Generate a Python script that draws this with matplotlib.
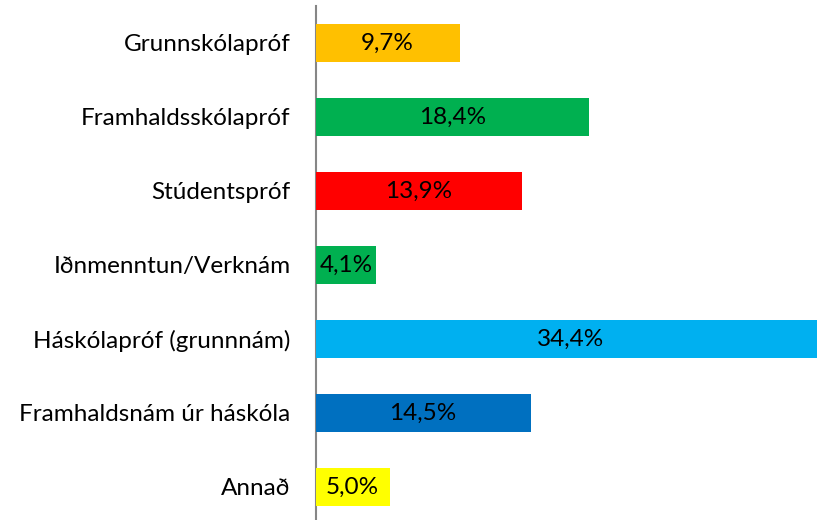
import matplotlib.pyplot as plt

categories = ['Grunnskólapróf', 'Framhaldsskólapróf', 'Stúdentspróf',
              'Iðnmenntun/Verknám', 'Háskólapróf (grunnnám)',
              'Framhaldsnám úr háskóla', 'Annað']
values = [9.7, 18.4, 13.9, 4.1, 34.4, 14.5, 5.0]
colors = ['#FFC000', '#00B050', '#FF0000', '#00B050', '#00B0F0', '#0070C0', '#FFFF00']

plt.rcParams['font.family'] = ['Lato', 'DejaVu Sans']

fig = plt.figure(figsize=(8.17, 5.2), dpi=100)
ax = fig.add_axes([315.5 / 817, 0, 1 - 315.5 / 817, 514 / 520])

pos = list(range(len(categories)))
bars = ax.barh(pos, values, height=0.51, color=colors, zorder=3)

for b, v in zip(bars, values):
    ax.text(b.get_width() / 2, b.get_y() + b.get_height() / 2,
            f'{v:.1f}%'.replace('.', ','), ha='center', va='center',
            fontsize=17.5, color='black', zorder=4)

ax.set_yticks(pos)
ax.set_yticklabels(categories, fontsize=17.5)
ax.tick_params(axis='y', length=0, pad=18)
ax.set_ylim(6.446, -0.5)
ax.set_xlim(0, 33.77)
ax.set_xticks([])

for s in ['top', 'right', 'bottom']:
    ax.spines[s].set_visible(False)
ax.spines['left'].set_color('#868686')
ax.spines['left'].set_linewidth(1.5)
ax.spines['left'].set_zorder(2)

fig.savefig('out.png', dpi=100)
